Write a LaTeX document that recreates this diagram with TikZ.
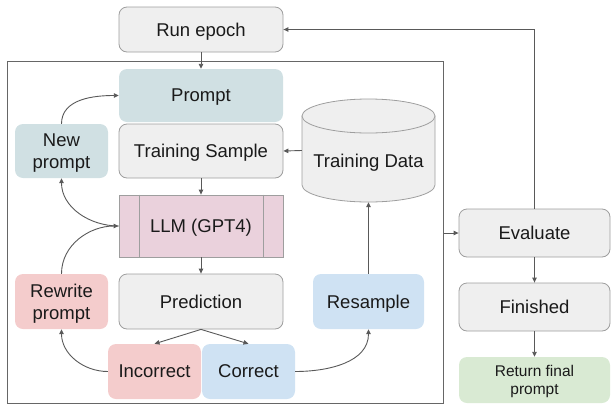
\documentclass[tikz,border=0pt]{standalone}
\usepackage{fontspec}
\setmainfont{Liberation Sans}
\usetikzlibrary{arrows.meta}
\definecolor{grayfill}{HTML}{EFEFEF}
\definecolor{grayline}{HTML}{9E9E9E}
\definecolor{teal}{HTML}{D0E0E3}
\definecolor{pinkish}{HTML}{EAD1DC}
\definecolor{redish}{HTML}{F4CCCC}
\definecolor{blueish}{HTML}{CFE2F3}
\definecolor{greenish}{HTML}{D9EAD3}
\definecolor{arrowc}{HTML}{595959}
\definecolor{framec}{HTML}{666666}
\definecolor{txt}{HTML}{1A1A1A}
\tikzset{
  box/.style={rectangle, rounded corners=8pt, inner sep=0pt, align=center, text=txt,
    text depth=0pt, font=\fontsize{18.5}{22}\selectfont},
  graybox/.style={box, fill=grayfill, draw=grayline, line width=0.8pt},
  colbox/.style={box, fill=#1},
  conn/.style={draw=arrowc, line width=0.9pt, -{Triangle[length=5pt,width=4.5pt]}},
}
\begin{document}
\begin{tikzpicture}[x=1pt,y=-1pt]
\useasboundingbox (0,0) rectangle (611,405);
% frame
\node[draw=framec, line width=1pt, minimum width=436pt, minimum height=342pt, inner sep=0pt] (frame) at (225,232) {};
% nodes
\node[graybox, minimum width=164pt, minimum height=45pt] (run) at (201,29.5) {Run epoch};
\node[colbox=teal, minimum width=164pt, minimum height=53pt] (prompt) at (201,95.5) {Prompt};
\node[graybox, minimum width=164pt, minimum height=54pt] (ts) at (201,151) {Training Sample};
\node[colbox=teal, minimum width=93pt, minimum height=54pt] (np) at (61.5,151) {New\\prompt};
\node[box, rounded corners=0pt, fill=pinkish, draw=grayline, line width=0.8pt, minimum width=164pt, minimum height=62pt] (llm) at (201,226) {LLM (GPT4)};
\draw[grayline, line width=0.8pt] ([xshift=21pt]llm.north west) -- ([xshift=21pt]llm.south west);
\draw[grayline, line width=0.8pt] ([xshift=-20pt]llm.north east) -- ([xshift=-20pt]llm.south east);
\node[graybox, minimum width=164pt, minimum height=55pt] (pred) at (201,301.5) {Prediction};
\node[colbox=redish, minimum width=93pt, minimum height=55pt] (rw) at (61.5,301.5) {Rewrite\\prompt};
\node[colbox=redish, minimum width=93pt, minimum height=55pt] (inc) at (154.5,371.5) {Incorrect};
\node[colbox=blueish, minimum width=93pt, minimum height=55pt] (cor) at (248.5,371.5) {Correct};
\node[colbox=blueish, minimum width=111pt, minimum height=55pt] (res) at (368.5,301.5) {Resample};
% cylinder
\filldraw[fill=grayfill, draw=grayline, line width=0.8pt]
  (302,116) -- (302,185) arc[start angle=180, end angle=0, x radius=66.5, y radius=17] -- (435,116) -- cycle;
\filldraw[fill=grayfill, draw=grayline, line width=0.8pt] (368.5,116) ellipse[x radius=66.5, y radius=17];
\node[inner sep=0pt, minimum width=133pt, minimum height=103pt] (td) at (368.5,150.5) {};
\node[box] (tdlabel) at (368.5,161) {Training Data};
% right column
\node[graybox, minimum width=151pt, minimum height=48pt] (eval) at (534.5,233) {Evaluate};
\node[graybox, minimum width=151pt, minimum height=48pt] (fin) at (534.5,307) {Finished};
\node[colbox=greenish, minimum width=151pt, minimum height=46pt, font=\fontsize{15.5}{18.3}\selectfont] (ret) at (534.5,380) {Return final\\prompt};
% connectors
\draw[conn] (run.south) -- (prompt.north);
\draw[conn] (td.west) -- (ts.east);
\draw[conn] (ts.south) -- (llm.north);
\draw[conn] (llm.south) -- (pred.north);
\draw[conn] (pred.south) -- (inc.north);
\draw[conn] (pred.south) -- (cor.north);
\draw[conn] (inc.west) to[out=180, in=-90] (rw.south);
\draw[conn] (rw.north) to[out=90, in=180] (llm.west);
\draw[conn] (llm.west) to[out=180, in=-90] (np.south);
\draw[conn] (np.north) to[out=90, in=180] (prompt.west);
\draw[conn] (cor.east) to[out=0, in=-90] (res.south);
\draw[conn] (res.north) -- (td.south);
\draw[conn] (frame.east |- eval.west) -- (eval.west);
\draw[conn] (eval.north) -- (eval.north |- run.east) -- (run.east);
\draw[conn] (eval.south) -- (fin.north);
\draw[conn] (fin.south) -- (ret.north);
\end{tikzpicture}
\end{document}
